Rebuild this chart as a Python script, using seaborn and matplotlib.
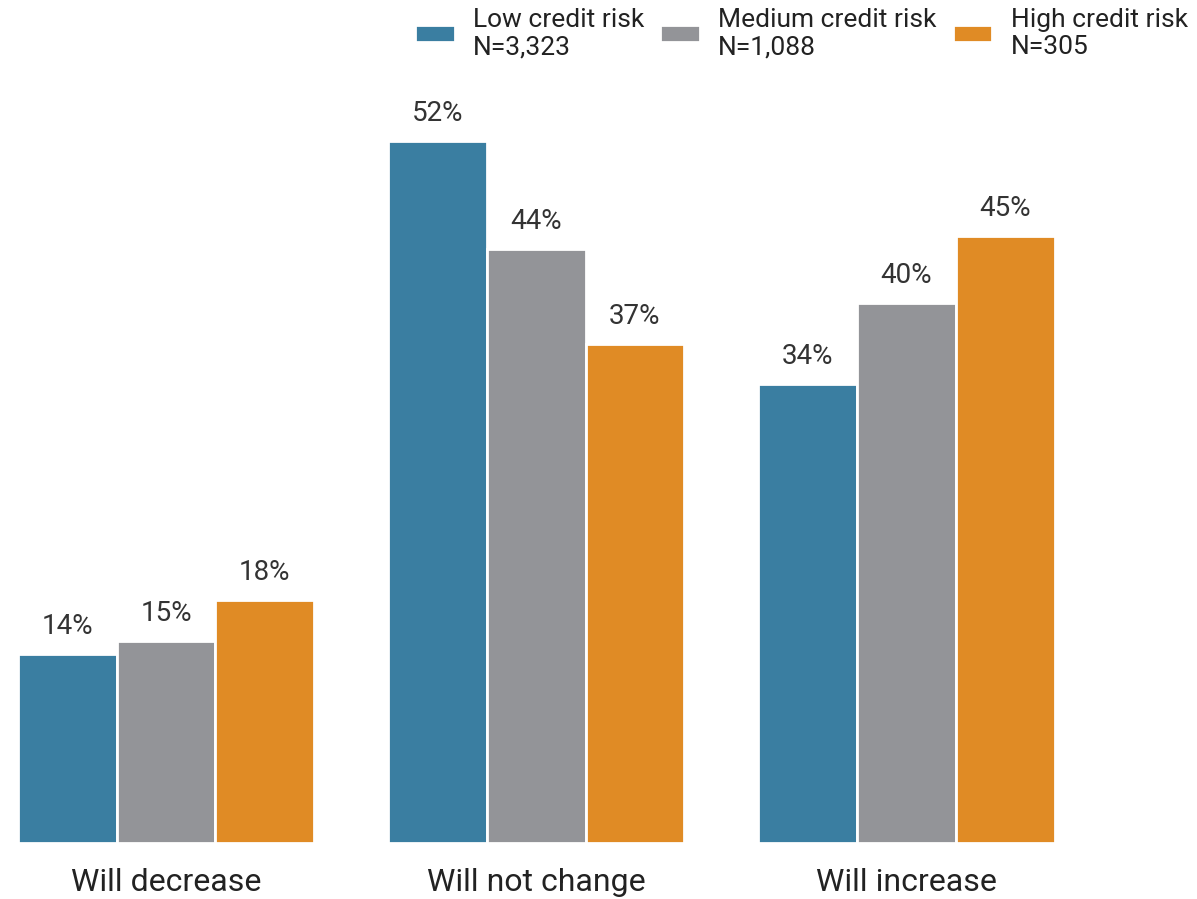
import pandas as pd
import matplotlib.pyplot as plt
import seaborn as sns

# Dados
categorias = ["Will decrease", "Will not change", "Will increase"]
grupos = ["Low credit risk\nN=3,323", "Medium credit risk\nN=1,088", "High credit risk\nN=305"]
baixo = [14, 52, 34]
medio = [15, 44, 40]
alto = [18, 37, 45]
cores = ["#3A7EA1", "#939498", "#E08B25"]

df = pd.DataFrame({
    "Categoria": categorias * 3,
    "Grupo": [grupos[0]] * 3 + [grupos[1]] * 3 + [grupos[2]] * 3,
    "Valor": baixo + medio + alto,
})

sns.set_theme(style="white")
plt.rcParams["font.family"] = ["Roboto", "DejaVu Sans"]

fig = plt.figure(figsize=(11.97, 8.99), dpi=100)
ax = fig.add_axes([0.015, 0.0623, 0.866, 0.8255])

sns.barplot(data=df, x="Categoria", y="Valor", hue="Grupo", order=categorias,
            hue_order=grupos, palette=cores, width=0.8, edgecolor="white",
            linewidth=2, saturation=1, ax=ax)

for c in ax.containers:
    ax.bar_label(c, fmt="%d%%", padding=10, fontsize=20, color="#333333")

ax.set_xlim(-0.4, 2.4)
ax.set_ylim(0, 55)
ax.set_xlabel("")
ax.set_ylabel("")
ax.set_yticks([])
ax.tick_params(axis="x", labelsize=23, colors="#222222", pad=18, length=0)
sns.despine(ax=ax, left=True, bottom=True)

ax.legend_.remove()
handles, labels = ax.get_legend_handles_labels()
leg = fig.legend(handles, labels, loc="upper right", bbox_to_anchor=(1.012, 1.018), ncol=3,
                 frameon=False, fontsize=19, handlelength=1.5, handleheight=0.6,
                 columnspacing=0.6, handletextpad=0.7)
for t in leg.get_texts():
    t.set_color("#222222")

plt.savefig("out.png", dpi=100)
